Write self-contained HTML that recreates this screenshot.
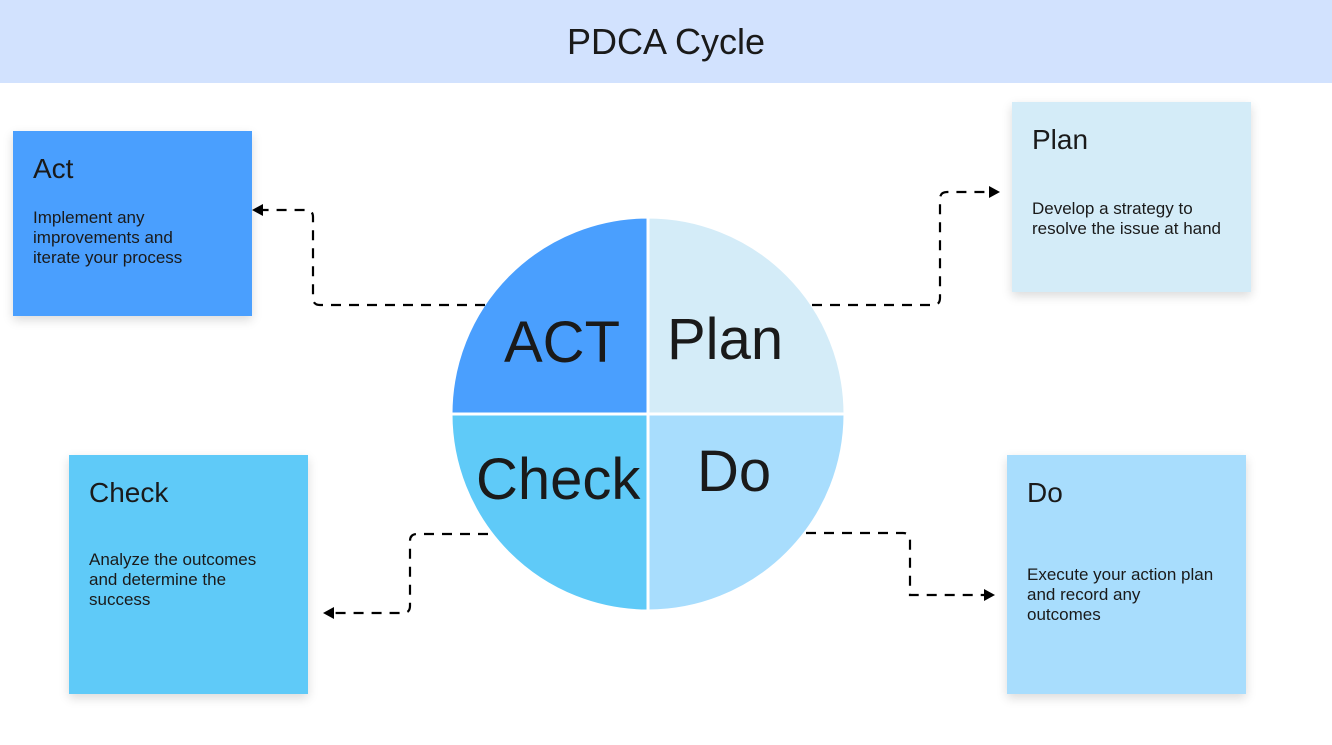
<!DOCTYPE html>
<html><head><style>
body{margin:0;width:1332px;height:745px;background:#fff;position:relative;overflow:hidden;font-family:"Liberation Sans",sans-serif;color:#1a1a1a}
.hdr{position:absolute;left:0;top:0;width:1332px;height:83px;background:#d2e2fe;text-align:center;line-height:83px;font-size:36px}
.card{position:absolute;width:239px;box-shadow:0 4px 10px rgba(0,0,0,0.15)}
.card h2{position:absolute;margin:0;font-weight:normal;font-size:28px;left:20px}
.card p{position:absolute;margin:0;font-size:17px;line-height:20px;left:20px}
.lbl{position:absolute;font-size:58px;line-height:1}
</style></head><body>
<div class="hdr">PDCA Cycle</div>
<svg width="1332" height="745" style="position:absolute;left:0;top:0">
<g stroke="#fff" stroke-width="3">
<path d="M648,414 L451,414 A197,197 0 0 1 648,217 Z" fill="#4a9ffe"/>
<path d="M648,414 L648,217 A197,197 0 0 1 845,414 Z" fill="#d4ecf8"/>
<path d="M648,414 L845,414 A197,197 0 0 1 648,611 Z" fill="#a8ddfd"/>
<path d="M648,414 L648,611 A197,197 0 0 1 451,414 Z" fill="#5fcaf8"/>
</g>
<g fill="none" stroke="#000" stroke-width="2.2" stroke-dasharray="10,8">
<path d="M485,305 H320 Q313,305 313,298 V217 Q313,210 306,210 H262"/>
<path d="M812,305 H933 Q940,305 940,298 V199 Q940,192 947,192 H990"/>
<path d="M488,534 H417 Q410,534 410,541 V606 Q410,613 403,613 H333"/>
<path d="M806,533 H903 Q910,533 910,540 V595 H985"/>
</g>
<g fill="#000">
<path d="M252,210 L263,204 L263,216 Z"/>
<path d="M1000,192 L989,186 L989,198 Z"/>
<path d="M323,613 L334,607 L334,619 Z"/>
<path d="M995,595 L984,589 L984,601 Z"/>
</g>
</svg>
<div class="lbl" style="left:504px;top:314px">ACT</div>
<div class="lbl" style="left:667px;top:311px">Plan</div>
<div class="lbl" style="left:476px;top:451px">Check</div>
<div class="lbl" style="left:697px;top:443px">Do</div>
<div class="card" style="left:13px;top:131px;height:185px;background:#4a9ffe"><h2 style="top:22px">Act</h2><p style="top:77px">Implement any<br>improvements and<br>iterate your process</p></div>
<div class="card" style="left:1012px;top:102px;height:190px;background:#d4ecf8"><h2 style="top:22px">Plan</h2><p style="top:97px">Develop a strategy to<br>resolve the issue at hand</p></div>
<div class="card" style="left:69px;top:455px;height:239px;background:#5fcaf8"><h2 style="top:22px">Check</h2><p style="top:95px">Analyze the outcomes<br>and determine the<br>success</p></div>
<div class="card" style="left:1007px;top:455px;height:239px;background:#a8ddfd"><h2 style="top:22px">Do</h2><p style="top:110px">Execute your action plan<br>and record any<br>outcomes</p></div>
</body></html>
